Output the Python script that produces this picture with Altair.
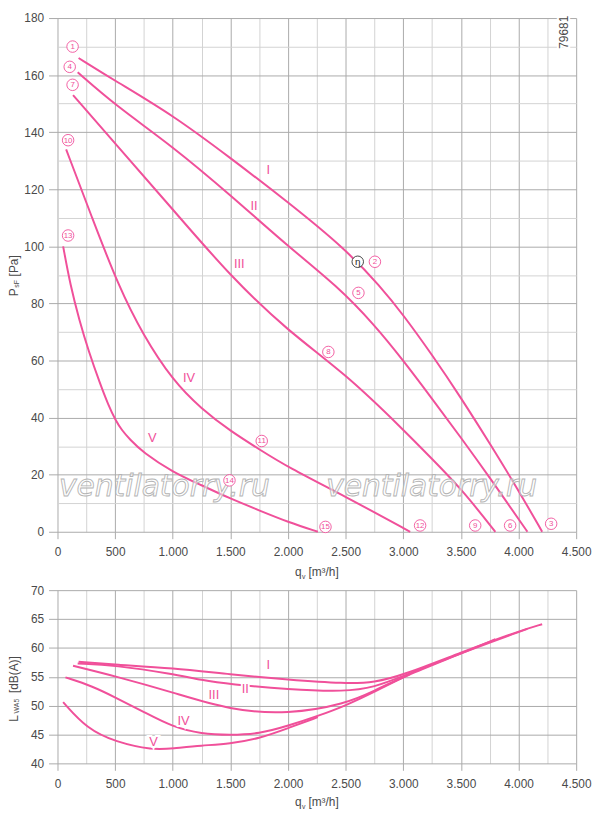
import altair as alt
import pandas as pd

PINK = "#F0509A"
TXT = "#4a4a4a"
FONT = "Liberation Sans"
MAJOR = "#aaaaaa"
MINOR = "#d2d2d2"

# ---- top panel: static pressure P_sF [Pa] over q_v [m3/h]
q_I = [183, 500, 1000, 1500, 2000, 2500, 2800, 3000, 3250, 3500, 3750, 4000, 4205]
p_I = [166, 158, 146, 131, 115.5, 99, 86, 76, 62, 47, 31, 14.5, 0]
q_II = [175, 500, 1000, 1500, 2000, 2430, 2750, 3000, 3250, 3500, 3750, 4077]
p_II = [161, 149.5, 135, 118, 100, 86, 72.5, 60, 46.6, 33, 19, 0]
q_III = [135, 500, 1000, 1500, 2000, 2500, 3000, 3250, 3500, 3799]
p_III = [153, 136, 113, 89.5, 70.3, 55.3, 35.8, 25.5, 15.2, 0]
q_IV = [75, 300, 527, 741, 1000, 1250, 1500, 1750, 2000, 2500, 3060]
p_IV = [134, 110, 86.3, 69, 53, 43, 35.3, 28.9, 22.6, 12.3, 0]
q_V = [49, 112, 190, 269, 369, 440, 504, 560, 627, 741, 1000, 1250, 1494, 1750, 2000, 2259]
p_V = [100, 86.3, 74, 63.4, 51.9, 44.5, 39, 35.5, 32.4, 27.8, 20.9, 16.3, 11.7, 7.5, 3.4, 0]

# operating point markers
mark_num = ["1", "4", "7", "10", "13", "2", "5", "8", "11", "14", "3", "6", "9", "12", "15"]
mark_q = [131, 106, 131, 92, 92, 2754, 2611, 2350, 1772, 1492, 4283, 3927, 3624, 3146, 2325]
mark_p = [170, 162.9, 156.6, 137.2, 103.8, 94.6, 83.7, 63, 31.8, 18, 2.8, 2.2, 2.2, 2.2, 1.7]
eta_q = [2605]
eta_p = [94.6]

roman = ["I", "II", "III", "IV", "V"]
roman_top_q = [1829, 1706, 1577, 1142, 822]
roman_top_p = [126.8, 114.2, 93.8, 54, 32.7]

# ---- bottom panel: sound power L_WA5 [dB(A)]
lq_I = [183, 500, 1000, 1500, 2000, 2500, 2750, 3000, 3500, 4000, 4205]
lw_I = [57.6, 57.1, 56.5, 55.4, 54.5, 53.8, 54.0, 55.3, 59.2, 62.9, 64.1]
lq_II = [175, 500, 1000, 1250, 1500, 2000, 2500, 2750, 3000, 3500, 4077]
lw_II = [57.3, 57.0, 55.5, 54.4, 53.7, 52.8, 52.4, 53.2, 55.1, 59.1, 63.3]
lq_III = [135, 500, 1000, 1500, 2000, 2500, 2750, 3000, 3500, 3799]
lw_III = [56.9, 55.1, 52.3, 49.2, 48.5, 50.3, 52.6, 55.0, 59.0, 61.5]
lq_IV = [69, 300, 504, 750, 1000, 1250, 1494, 1750, 2000, 2259, 2500, 2750, 3060]
lw_IV = [54.9, 53.4, 51.4, 48.9, 46.3, 45.1, 44.9, 45.1, 46.5, 48.2, 50.0, 52.4, 55.5]
lq_V = [49, 255, 504, 827, 1000, 1250, 1494, 1750, 2000, 2259]
lw_V = [50.6, 46.0, 43.7, 42.3, 42.6, 43.1, 43.4, 44.3, 46.1, 48.0]

roman_bot_q = [1829, 1629, 1357, 1094, 833]
roman_bot_l = [57.0, 52.9, 51.9, 47.4, 43.7]

watermark_q = [927, 3246]
watermark_p = [15.7, 15.7]


def curves(qs, vs, names, col):
    rows = []
    for q, v, n in zip(qs, vs, names):
        for i, (a, b) in enumerate(zip(q, v)):
            rows.append({"curve": n, "q": a, col: b, "i": i})
    return pd.DataFrame(rows)


top_df = curves([q_I, q_II, q_III, q_IV, q_V], [p_I, p_II, p_III, p_IV, p_V], roman, "p")
bot_df = curves([lq_I, lq_II, lq_III, lq_IV, lq_V], [lw_I, lw_II, lw_III, lw_IV, lw_V], roman, "l")
marks_df = pd.DataFrame({"num": mark_num, "q": mark_q, "p": mark_p})
eta_df = pd.DataFrame({"q": eta_q, "p": eta_p})
rtop_df = pd.DataFrame({"t": roman, "q": roman_top_q, "p": roman_top_p})
rbot_df = pd.DataFrame({"t": roman, "q": roman_bot_q, "l": roman_bot_l})
wm_df = pd.DataFrame({"q": watermark_q, "p": watermark_p})
one = pd.DataFrame({"k": [0]})

XS = alt.Scale(domain=[0, 4500], nice=False)
YS_TOP = alt.Scale(domain=[0, 180], nice=False)
YS_BOT = alt.Scale(domain=[40, 70], nice=False)

THOUSANDS = "replace(format(datum.value, ','), ',', '.')"


def x_axis():
    major = "datum.value % 500 === 0"
    return alt.Axis(
        values=list(range(0, 4501, 250)),
        labelExpr=f"{major} ? {THOUSANDS} : ''",
        gridColor={"condition": {"test": major, "value": MAJOR}, "value": MINOR},
        tickOpacity={"condition": {"test": major, "value": 1}, "value": 0},
        tickSize=7,
        labelPadding=8,
        labelFlush=False,
        labelOverlap=False,
        domain=False,
        title="",
    )


def y_axis(values, step):
    major = f"datum.value % {step} === 0"
    return alt.Axis(
        values=values,
        labelExpr=f"{major} ? datum.value : ''",
        gridColor={"condition": {"test": major, "value": MAJOR}, "value": MINOR},
        tickOpacity={"condition": {"test": major, "value": 1}, "value": 0},
        tickSize=9,
        labelPadding=5,
        labelFlush=False,
        labelOverlap=False,
        domain=False,
        title="",
    )


TOP_YAX = y_axis(list(range(0, 181, 10)), 20)
BOT_YAX = y_axis(list(range(40, 71, 5)), 5)


def xt():
    return alt.X("q:Q", scale=XS, axis=x_axis())


def yt():
    return alt.Y("p:Q", scale=YS_TOP, axis=TOP_YAX)


def yb():
    return alt.Y("l:Q", scale=YS_BOT, axis=BOT_YAX)


def piece(text, x, y, size, angle=270, **kw):
    style = dict(text=text, angle=angle, align="left", baseline="alphabetic",
                 fontSize=size, font=FONT, color=TXT)
    style.update(kw)
    return alt.Chart(one).mark_text(**style).encode(x=alt.value(x), y=alt.value(y))


def q_title(base):
    # q with subscript v, then the unit
    return [
        piece("q", 240, base, 12, angle=0),
        piece("v", 247, base + 3, 7, angle=0),
        piece("[m³/h]", 253.5, base, 12, angle=0),
    ]


TOP_H = 519
BOT_H = 175
W = 524
LINE = dict(color=PINK, strokeWidth=2, interpolate="basis")

top_lines = alt.Chart(top_df).mark_line(**LINE).encode(
    x=xt(), y=yt(), detail="curve:N", order="i:Q"
)

watermark = alt.Chart(wm_df).mark_text(
    text="ventilatorry.ru", font="DejaVu Sans", fontStyle="italic", fontSize=30,
    fill="white", fillOpacity=0.55, stroke="#b4b4b4", strokeWidth=0.9,
    align="center", baseline="middle",
).encode(x=xt(), y=yt())

circles = alt.Chart(marks_df).mark_circle(
    size=135, fill="white", stroke=PINK, strokeWidth=0.9, opacity=1
).encode(x=xt(), y=yt())

nums = alt.Chart(marks_df).mark_text(
    fontSize=8, font=FONT, color=PINK, align="center", baseline="middle", dy=0.5
).encode(x=xt(), y=yt(), text="num:N")

eta_c = alt.Chart(eta_df).mark_circle(
    size=135, fill="white", stroke="#333333", strokeWidth=0.9, opacity=1
).encode(x=xt(), y=yt())

eta_t = alt.Chart(eta_df).mark_text(
    text="η", fontSize=10, font=FONT, color="#222222", align="center", baseline="middle"
).encode(x=xt(), y=yt())

rtop = alt.Chart(rtop_df).mark_text(
    fontSize=13, font=FONT, color=PINK, align="center", baseline="middle"
).encode(x=xt(), y=yt(), text="t:N")

top = alt.layer(
    top_lines, watermark, circles, nums, eta_c, eta_t, rtop,
    piece("79681", 516, 31, 12, stroke="white", strokeWidth=4, color="white"),
    piece("79681", 516, 31, 12),
    piece("P", -40, 281, 12),
    piece("sF", -38.5, 272.5, 7),
    piece("[Pa]", -40, 261, 12),
    *q_title(TOP_H + 45),
).properties(width=W, height=TOP_H)

bot_lines = alt.Chart(bot_df).mark_line(**LINE).encode(
    x=xt(), y=yb(), detail="curve:N", order="i:Q"
)

rbot_bg = alt.Chart(rbot_df).mark_text(
    fontSize=13, font=FONT, color="white", stroke="white", strokeWidth=4,
    align="center", baseline="middle",
).encode(x=xt(), y=yb(), text="t:N")

rbot = alt.Chart(rbot_df).mark_text(
    fontSize=13, font=FONT, color=PINK, align="center", baseline="middle"
).encode(x=xt(), y=yb(), text="t:N")

bottom = alt.layer(
    bot_lines, rbot_bg, rbot,
    piece("L", -40, 133, 12),
    piece("WA5", -38.5, 124.5, 7),
    piece("[dB(A)]", -40, 104, 12),
    *q_title(BOT_H + 43),
).properties(width=W, height=BOT_H)

chart = alt.vconcat(top, bottom, spacing=59, bounds="flush").properties(
    padding=0
).configure_view(strokeWidth=0).configure_axis(
    labelFont=FONT, labelFontSize=12, labelColor=TXT, tickColor=MAJOR,
    gridWidth=1,
)

chart.save("out.html", embed_options={"renderer": "svg", "actions": False})
